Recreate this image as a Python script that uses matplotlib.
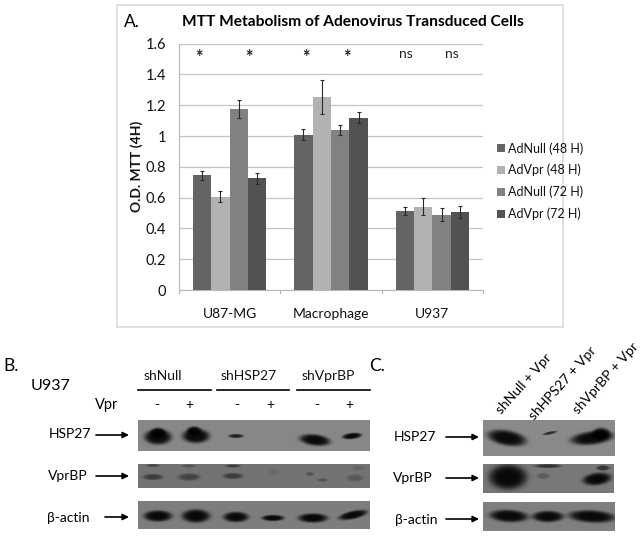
import numpy as np
import matplotlib
matplotlib.use('Agg')
import matplotlib.pyplot as plt
from matplotlib.patches import Rectangle

plt.rcParams['font.family'] = ['Lato', 'DejaVu Sans']

# Datos del panel A
grupos = ['U87-MG', 'Macrophage', 'U937']
series = ['AdNull (48 H)', 'AdVpr (48 H)', 'AdNull (72 H)', 'AdVpr (72 H)']
adnull_48 = [0.745, 1.01, 0.515]
advpr_48 = [0.605, 1.255, 0.54]
adnull_72 = [1.175, 1.04, 0.49]
advpr_72 = [0.725, 1.12, 0.505]
err_adnull_48 = [0.03, 0.035, 0.025]
err_advpr_48 = [0.035, 0.11, 0.055]
err_adnull_72 = [0.06, 0.03, 0.045]
err_advpr_72 = [0.035, 0.035, 0.04]
colores = ['#646464', '#b2b2b2', '#818181', '#525252']
valores = [adnull_48, advpr_48, adnull_72, advpr_72]
errores = [err_adnull_48, err_advpr_48, err_adnull_72, err_advpr_72]

# Bandas de los western blots: x, y, ancho, alto, oscuridad, inclinacion (en pixeles de la imagen)
blots = [
    # panel B
    (138, 420, 232, 31, 0.53, [(158, 437, 27, 15, 1, 0), (158, 433, 15, 10, 1, 0), (196, 436, 27, 14, 1, 0),
                               (194, 431, 14, 9, 1, 0), (236, 436, 15, 4, .8, 0), (315, 440, 30, 11, 1, .1),
                               (352, 436, 19, 6, 1, -.1)]),
    (138, 464, 232, 24, 0.45, [(153, 477, 20, 6, .5, 0), (153, 465.5, 13, 3, .4, 0), (189, 477, 22, 7, .45, 0),
                               (189, 466, 14, 3, .3, 0), (233, 476, 20, 6, .5, 0), (233, 466, 15, 3, .5, 0),
                               (310, 474, 8, 4, .3, 0), (322, 480, 10, 3, .3, 0), (355, 478, 16, 7, .25, 0),
                               (358, 468, 12, 4, .15, 0), (273, 472, 10, 6, .08, 0)]),
    (138, 501, 232, 28, 0.49, [(158, 516, 28, 11, 1, 0), (196, 516, 28, 13, 1, 0), (236, 517, 25, 10, 1, 0),
                               (273, 518, 22, 6, 1, 0), (313, 518, 29, 9, 1, 0), (353, 515, 28, 8, 1, -.2)]),
    # panel C
    (483, 420, 132, 36, 0.54, [(507, 438, 38, 15, 1, .15), (550, 433, 14, 3, .7, -.2), (592, 438, 42, 13, 1, -.1),
                               (601, 434, 18, 12, 1, 0)]),
    (483, 464, 131, 29, 0.47, [(508, 477, 38, 25, 1, 0), (548, 466, 26, 4, .6, 0), (543, 476, 13, 6, .25, 0),
                               (597, 479, 28, 12, 1, -.1), (603, 468, 13, 5, .6, 0)]),
    (483, 502, 132, 29, 0.5, [(509, 516, 38, 12, 1, .05), (548, 516.5, 31, 11, 1, 0), (592, 516.5, 46, 12, 1, .05)]),
]

fig = plt.figure(figsize=(6.43, 5.41), dpi=100)

# Capa en pixeles para el marco, textos y blots
capa = fig.add_axes([0, 0, 1, 1])
capa.axis('off')
capa.add_patch(Rectangle((117, 5), 446, 322, fc='white', ec='#d9d9d9', lw=1.2))

# Panel A
ax = fig.add_axes([179 / 643, 1 - 290 / 541, 304 / 643, 246.3 / 541])
ax.patch.set_alpha(0)
ancho = 0.1815
for i, nombre in enumerate(series):
    pos = [g + (i - 1.5) * ancho for g in range(len(grupos))]
    ax.bar(pos, valores[i], ancho, color=colores[i], label=nombre, zorder=3,
           yerr=errores[i], ecolor='#2a2a2a',
           error_kw=dict(lw=0.8, capsize=1.5, capthick=0.8, zorder=4))
ax.set_xlim(-0.5, 2.5)
ax.set_ylim(0, 1.6)
ax.set_yticks([0, 0.2, 0.4, 0.6, 0.8, 1, 1.2, 1.4, 1.6])
ax.set_yticklabels(['0', '0.2', '0.4', '0.6', '0.8', '1', '1.2', '1.4', '1.6'], fontsize=10.5, color='#111111')
ax.set_xticks([0, 1, 2])
ax.set_xticklabels(grupos, fontsize=10, color='#111111')
ax.tick_params(axis='x', length=0, pad=13)
ax.tick_params(axis='y', length=0, pad=9)
for x_tick in [-0.5, 0.5, 1.5, 2.5]:
    ax.plot([x_tick, x_tick], [0, -0.018], color='#b0b0b0', lw=0.8, clip_on=False)
ax.grid(axis='y', color='#c4c4c4', lw=0.9, zorder=0)
for lado in ['top', 'right']:
    ax.spines[lado].set_visible(False)
ax.spines['left'].set_color('#b8b8b8')
ax.spines['bottom'].set_color('#b8b8b8')
ax.set_ylabel('O.D. MTT (4H)', fontsize=10, fontweight='bold', labelpad=2, color='#111111')
ax.legend(loc='center left', bbox_to_anchor=(497 / 643, 1 - 181 / 541), bbox_transform=fig.transFigure,
          frameon=False, fontsize=9, labelspacing=0.74, handlelength=0.6, handleheight=0.6,
          handletextpad=0.25, borderpad=0, borderaxespad=0, labelcolor='#111111')

capa.text(124, 22, 'A.', fontsize=12.5, va='center')
capa.text(353, 22, 'MTT Metabolism of Adenovirus Transduced Cells', fontsize=11.2, fontweight='bold',
          ha='center', va='center', color='black')
for x, y, s in [(199, 57, '*'), (249, 57, '*'), (306, 58, '*'), (347, 58, '*')]:
    capa.text(x, y, s, fontsize=13, fontweight='bold', ha='center', va='center', color='#222222')
for x, y, s in [(406, 54, 'ns'), (452, 54, 'ns')]:
    capa.text(x, y, s, fontsize=10, ha='center', va='center', color='#222222')

# Blots como imagen en escala de grises
for x, y, w, h, fondo, bandas in blots:
    xx, yy = np.meshgrid(np.arange(x, x + w) + 0.5, np.arange(y, y + h) + 0.5)
    img = np.full(xx.shape, fondo)
    for cx, cy, bw, bh, osc, tilt in bandas:
        dx = (xx - cx) / (bw / 2)
        dy = (yy - cy - tilt * (xx - cx)) / (bh / 2)
        img = img * (1 - osc * np.exp(-(dx ** 2 + dy ** 2) ** 2.5) * 0.93)
    capa.imshow(img, cmap='gray', vmin=0, vmax=1, extent=(x, x + w, y + h, y), aspect='auto',
                interpolation='bilinear')
capa.set_xlim(0, 643)
capa.set_ylim(541, 0)

# Textos panel B
capa.text(3, 366, 'B.', fontsize=12.5, va='center')
capa.text(31, 386, 'U937', fontsize=11.5, va='center')
for x, s in [(163, 'shNull'), (249, 'shHSP27'), (328, 'shVprBP')]:
    capa.text(x, 376, s, fontsize=10, ha='center', va='center', color='#111111')
for x0, x1 in [(138, 211), (217, 289), (297, 370)]:
    capa.plot([x0, x1], [390, 390], color='black', lw=1.2)
capa.text(107, 405, 'Vpr', fontsize=10.5, ha='center', va='center')
for x, s in [(157, '-'), (189, '+'), (237, '-'), (270, '+'), (317, '-'), (349, '+')]:
    capa.text(x, 405, s, fontsize=10, ha='center', va='center')
for x, y, s in [(70, 434, 'HSP27'), (68, 476, 'VprBP'), (68, 518, 'β-actin')]:
    capa.text(x, y, s, fontsize=10, ha='center', va='center', color='black')

# Textos panel C
capa.text(369, 366, 'C.', fontsize=12.5, va='center')
for x, y, s in [(503, 416, 'shNull + Vpr'), (536, 422, 'shHPS27 + Vpr'), (580, 416, 'shVprBP + Vpr')]:
    capa.text(x, y, s, fontsize=10, rotation=48, rotation_mode='anchor', ha='left', va='bottom', color='black')
for x, y, s in [(415, 437, 'HSP27'), (413, 478, 'VprBP'), (416, 520, 'β-actin')]:
    capa.text(x, y, s, fontsize=10, ha='center', va='center', color='black')

# Flechas
flechas = [(96, 129, 435), (96, 129, 476), (105, 129, 517), (446, 479, 437), (446, 479, 478), (446, 479, 519)]
for x0, x1, y in flechas:
    capa.annotate('', xy=(x1, y), xytext=(x0, y),
                  arrowprops=dict(arrowstyle='-|>', color='black', lw=1.2, mutation_scale=9, shrinkA=0, shrinkB=0))

plt.savefig('out.png', dpi=100)
